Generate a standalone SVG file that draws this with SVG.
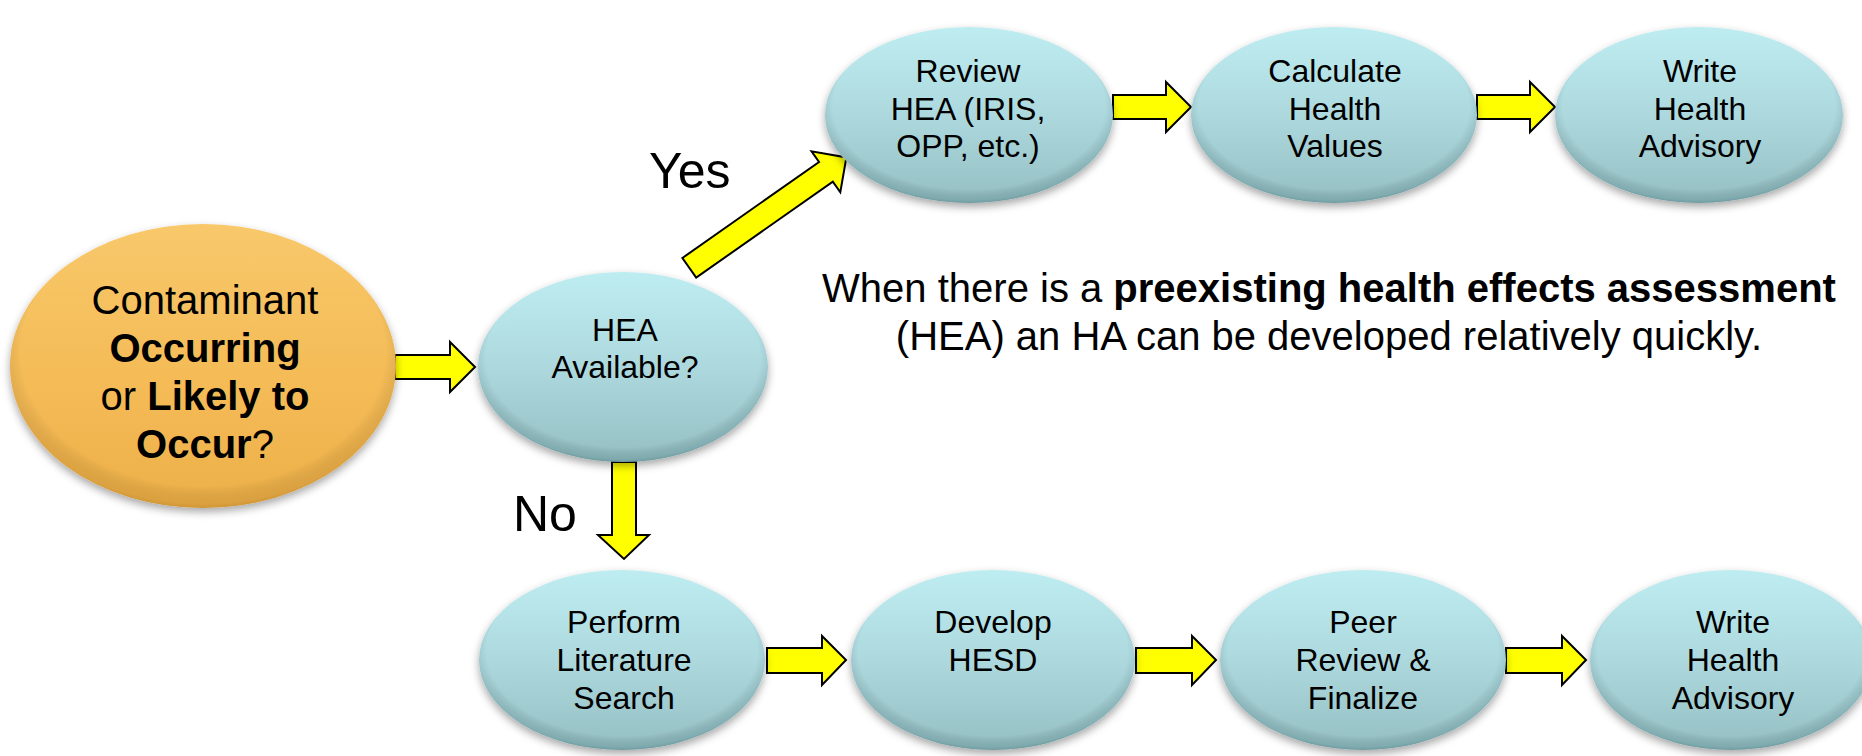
<svg xmlns="http://www.w3.org/2000/svg" width="1862" height="756" viewBox="0 0 1862 756">
<defs>
  <linearGradient id="gBlue" x1="0" y1="0" x2="0" y2="1">
    <stop offset="0" stop-color="#BEEDF1"/>
    <stop offset="0.5" stop-color="#ADD9DE"/>
    <stop offset="1" stop-color="#94BEC2"/>
  </linearGradient>
  <linearGradient id="gOrange" x1="0" y1="0" x2="0" y2="1">
    <stop offset="0" stop-color="#F8C86A"/>
    <stop offset="0.6" stop-color="#F4BA55"/>
    <stop offset="1" stop-color="#EDB04A"/>
  </linearGradient>
  <radialGradient id="gRim" cx="0.5" cy="0.45" r="0.55">
    <stop offset="0.86" stop-color="#000" stop-opacity="0"/>
    <stop offset="0.97" stop-color="#1A4A50" stop-opacity="0.18"/>
    <stop offset="1" stop-color="#1A4A50" stop-opacity="0.3"/>
  </radialGradient>
  <radialGradient id="gRimO" cx="0.5" cy="0.45" r="0.55">
    <stop offset="0.86" stop-color="#000" stop-opacity="0"/>
    <stop offset="0.97" stop-color="#8A5A10" stop-opacity="0.18"/>
    <stop offset="1" stop-color="#8A5A10" stop-opacity="0.3"/>
  </radialGradient>
  <filter id="shadow" x="-10%" y="-10%" width="120%" height="130%">
    <feDropShadow dx="0" dy="4" stdDeviation="4" flood-color="#000" flood-opacity="0.35"/>
  </filter>
</defs>
<style>
  .blue { fill: url(#gBlue); filter: url(#shadow); }
  .orange { fill: url(#gOrange); filter: url(#shadow); }
  .rim { fill: url(#gRim); }
  .rimo { fill: url(#gRimO); }
  .arrow { fill: #FFFF00; stroke: #000; stroke-width: 2; stroke-linejoin: miter; }
  .t { font-family: "Liberation Sans", Arial, sans-serif; fill: #000; text-anchor: middle; }
  .n { font-size: 32px; }
  .o { font-size: 40px; }
  .lbl { font-family: "Liberation Sans", Arial, sans-serif; font-size: 50px; fill: #000; }
  .b { font-weight: bold; }
</style>

<g id="connectors">
  <polygon class="arrow" points="395,355 450,355 450,342 475,367 450,392 450,379 395,379"/>
  <polygon class="arrow" points="612,462 636,462 636,535 649,535 624,559 598,535 612,535"/>
  <polygon class="arrow" transform="translate(689.3,267.8) rotate(-35.1)" points="0,-12 167,-12 167,-25 192,0 167,25 167,12 0,12"/>
  <polygon class="arrow" points="1113,95 1166,95 1166,82 1191,107 1166,132 1166,119 1113,119"/>
  <polygon class="arrow" points="1477,95 1530,95 1530,82 1555,107 1530,132 1530,119 1477,119"/>
  <polygon class="arrow" points="767,648 822,648 822,636 846,660 822,685 822,673 767,673"/>
  <polygon class="arrow" points="1136,648 1192,648 1192,636 1216,660 1192,685 1192,673 1136,673"/>
  <polygon class="arrow" points="1506,648 1562,648 1562,636 1586,660 1562,685 1562,673 1506,673"/>
</g>

<g id="start">
  <ellipse class="orange" cx="203" cy="366" rx="193" ry="142"/>
  <ellipse class="rimo" cx="203" cy="366" rx="193" ry="142"/>
  <text class="t o" x="205" y="314">Contaminant</text>
  <text class="t o b" x="205" y="362">Occurring</text>
  <text class="t o" x="205" y="410">or <tspan class="b">Likely to</tspan></text>
  <text class="t o" x="205" y="458"><tspan class="b">Occur</tspan>?</text>
</g>

<g id="hea">
  <ellipse class="blue" cx="623" cy="367" rx="145" ry="95"/>
  <ellipse class="rim" cx="623" cy="367" rx="145" ry="95"/>
  <text class="t n" x="625" y="341">HEA</text>
  <text class="t n" x="625" y="378">Available?</text>
</g>

<g id="review">
  <ellipse class="blue" cx="969" cy="115" rx="144" ry="88"/>
  <ellipse class="rim" cx="969" cy="115" rx="144" ry="88"/>
  <text class="t n" x="968" y="82">Review</text>
  <text class="t n" x="968" y="120">HEA (IRIS,</text>
  <text class="t n" x="968" y="157">OPP, etc.)</text>
</g>

<g id="calculate">
  <ellipse class="blue" cx="1334" cy="115" rx="143" ry="88"/>
  <ellipse class="rim" cx="1334" cy="115" rx="143" ry="88"/>
  <text class="t n" x="1335" y="82">Calculate</text>
  <text class="t n" x="1335" y="120">Health</text>
  <text class="t n" x="1335" y="157">Values</text>
</g>

<g id="write-top">
  <ellipse class="blue" cx="1699" cy="115" rx="144" ry="88"/>
  <ellipse class="rim" cx="1699" cy="115" rx="144" ry="88"/>
  <text class="t n" x="1700" y="82">Write</text>
  <text class="t n" x="1700" y="120">Health</text>
  <text class="t n" x="1700" y="157">Advisory</text>
</g>

<g id="perform">
  <ellipse class="blue" cx="622" cy="660" rx="143" ry="90"/>
  <ellipse class="rim" cx="622" cy="660" rx="143" ry="90"/>
  <text class="t n" x="624" y="633">Perform</text>
  <text class="t n" x="624" y="671">Literature</text>
  <text class="t n" x="624" y="709">Search</text>
</g>

<g id="develop">
  <ellipse class="blue" cx="993" cy="660" rx="142" ry="90"/>
  <ellipse class="rim" cx="993" cy="660" rx="142" ry="90"/>
  <text class="t n" x="993" y="633">Develop</text>
  <text class="t n" x="993" y="671">HESD</text>
</g>

<g id="peer">
  <ellipse class="blue" cx="1363" cy="660" rx="143" ry="90"/>
  <ellipse class="rim" cx="1363" cy="660" rx="143" ry="90"/>
  <text class="t n" x="1363" y="633">Peer</text>
  <text class="t n" x="1363" y="671">Review &amp;</text>
  <text class="t n" x="1363" y="709">Finalize</text>
</g>

<g id="write-bottom">
  <ellipse class="blue" cx="1731" cy="660" rx="141" ry="90"/>
  <ellipse class="rim" cx="1731" cy="660" rx="141" ry="90"/>
  <text class="t n" x="1733" y="633">Write</text>
  <text class="t n" x="1733" y="671">Health</text>
  <text class="t n" x="1733" y="709">Advisory</text>
</g>

<g id="labels">
  <text class="lbl" x="649" y="188">Yes</text>
  <text class="lbl" x="513" y="531">No</text>
  <text class="t o" x="1329" y="302">When there is a <tspan class="b">preexisting health effects assessment</tspan></text>
  <text class="t o" x="1329" y="350">(HEA) an HA can be developed relatively quickly.</text>
</g>
</svg>
